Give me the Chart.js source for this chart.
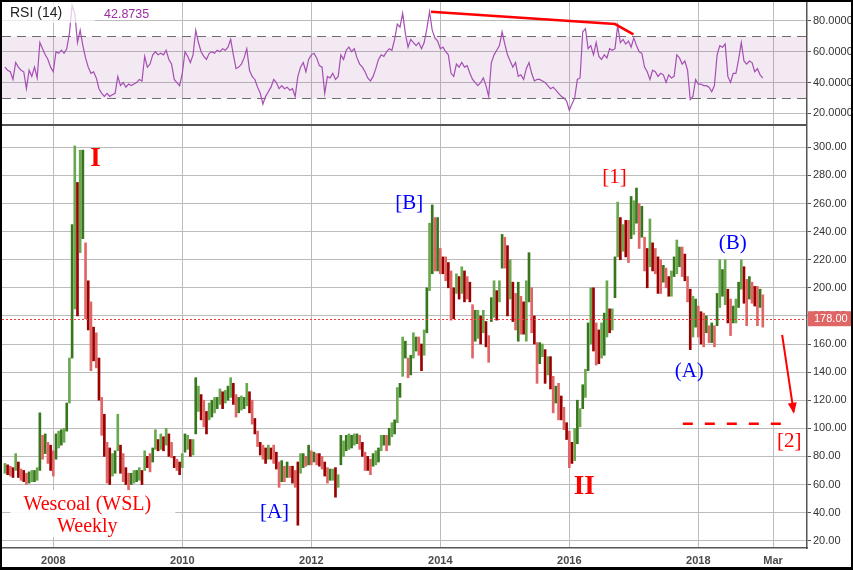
<!DOCTYPE html>
<html>
<head>
<meta charset="utf-8">
<title>Wescoal (WSL) Weekly</title>
<script src="https://cdn.jsdelivr.net/npm/chart.js@4.4.1/dist/chart.umd.min.js"></script>
<style>
  html, body { margin: 0; padding: 0; background: #fff; }
  #frame {
    position: relative;
    width: 853px;
    height: 570px;
    box-sizing: border-box;
    border: 2px solid #000;
    border-bottom-width: 3px;
    background: #fff;
    overflow: hidden;
  }
  #rsi { position: absolute; left: 0; top: 0; }
  #price { position: absolute; left: 0; top: 122px; }
</style>
</head>
<body>
<div id="frame">
  <canvas id="rsi" width="849" height="122"></canvas>
  <canvas id="price" width="849" height="443"></canvas>
</div>
<script>
// bars sampled every half month, first one in April 2007
const START = 2007.25;
const STEP = 1 / 24;

const lows = [
  68, 67, 66, 65, 70, 65, 63, 62, 60, 61, 62, 62,
  63, 70, 78, 82, 75, 70, 66, 78, 86, 88, 90, 98,
  118, 150, 185, 180, 225, 235, 178, 170, 141, 148, 143, 120,
  95, 80, 61, 60, 66, 68, 84, 68, 62, 60, 56, 60,
  61, 62, 63, 60, 70, 72, 69, 76, 85, 84, 85, 84,
  88, 80, 79, 72, 70, 67, 72, 83, 85, 80, 81, 96,
  112, 106, 101, 96, 106, 108, 111, 114, 117, 114, 118, 120,
  122, 117, 108, 111, 113, 114, 116, 111, 103, 96, 87, 81,
  78, 75, 78, 78, 75, 71, 58, 62, 62, 65, 65, 61,
  58, 31, 68, 72, 73, 74, 74, 76, 74, 73, 71, 66,
  61, 63, 63, 51, 58, 74, 80, 84, 85, 86, 88, 89,
  85, 80, 70, 70, 67, 73, 74, 76, 84, 88, 84, 88,
  94, 96, 104, 122, 137, 150, 136, 138, 150, 155, 152, 141,
  152, 168, 198, 210, 212, 212, 210, 210, 205, 200, 177, 178,
  196, 192, 196, 190, 192, 190, 150, 162, 164, 160, 168, 158,
  147, 176, 179, 177, 190, 214, 214, 180, 192, 176, 170, 162,
  167, 167, 162, 190, 168, 160, 132, 146, 151, 132, 138, 128,
  111, 118, 106, 106, 99, 92, 72, 75, 77, 89, 101, 114,
  122, 141, 160, 155, 145, 146, 150, 152, 165, 168, 170, 193,
  222, 220, 226, 222, 218, 235, 238, 246, 228, 236, 212, 200,
  215, 212, 210, 196, 196, 204, 200, 194, 194, 208, 210, 215,
  208, 205, 190, 156, 165, 172, 165, 160, 158, 168, 161, 161,
  158, 173, 186, 194, 188, 175, 166, 175, 175, 186, 199, 189,
  173, 192, 189, 187, 173, 186, 172
];

const highs = [
  75, 74, 73, 72, 82, 76, 71, 70, 68, 69, 70, 70,
  72, 111, 95, 96, 90, 88, 84, 96, 98, 99, 100, 118,
  150, 245, 301, 275, 298, 298, 232, 205, 190, 172, 168, 150,
  122, 110, 90, 86, 82, 84, 110, 88, 82, 72, 68, 68,
  70, 70, 72, 70, 84, 80, 82, 86, 99, 92, 96, 94,
  100, 96, 90, 80, 78, 76, 82, 96, 95, 92, 92, 136,
  130, 124, 120, 112, 118, 120, 122, 122, 128, 126, 127, 130,
  136, 132, 124, 122, 123, 122, 132, 126, 120, 107, 98, 90,
  88, 86, 88, 86, 88, 83, 76, 77, 73, 76, 73, 73,
  70, 76, 82, 82, 80, 88, 84, 83, 82, 82, 80, 76,
  72, 71, 71, 72, 67, 95, 91, 95, 96, 95, 96, 96,
  95, 90, 83, 80, 78, 82, 84, 86, 95, 95, 95, 100,
  104, 106, 129, 132, 165, 162, 150, 152, 168, 165, 165, 160,
  170, 200, 246, 259, 250, 250, 228, 222, 222, 218, 212, 200,
  210, 208, 215, 212, 208, 204, 188, 184, 184, 180, 184, 176,
  166, 193, 205, 198, 205, 238, 236, 230, 220, 204, 196, 204,
  194, 190, 205, 225, 200, 180, 161, 161, 160, 156, 151, 151,
  137, 130, 132, 123, 115, 104, 98, 90, 100, 120, 114, 131,
  142, 175, 200, 200, 175, 170, 175, 182, 205, 185, 185, 222,
  261, 250, 245, 248, 248, 265, 262, 271, 260, 258, 236, 228,
  249, 232, 228, 222, 220, 216, 214, 208, 212, 222, 234, 229,
  229, 224, 208, 199, 194, 192, 187, 183, 182, 180, 173, 175,
  173, 196, 220, 213, 220, 199, 192, 187, 192, 204, 220, 215,
  206, 208, 204, 201, 201, 199, 195
];

const rsiValues = [
  50, 48, 47, 42, 53, 50, 48, 47, 36, 48, 44, 50,
  43, 66, 62, 58, 55, 50, 47, 60, 59, 61, 59, 62,
  72, 90, 85, 66, 74, 64, 56, 50, 46, 47, 43, 36,
  33, 31, 33, 31, 32, 33, 44, 38, 40, 37, 39, 38,
  39, 40, 42, 41, 57, 50, 52, 58, 60, 58, 59, 58,
  61, 55, 52, 42, 40, 38, 46, 60, 57, 53, 58, 74,
  66, 60, 57, 55, 59, 60, 59, 61, 60, 62, 61, 63,
  68, 58, 49, 50, 52, 56, 62, 48, 44, 42, 37, 33,
  26, 31, 34, 37, 42, 40, 36, 38, 36, 37, 35, 36,
  31, 44, 50, 53, 47, 55, 58, 59, 56, 51, 50, 33,
  44, 43, 46, 42, 44, 58, 55, 61, 63, 60, 62, 56,
  52, 50, 47, 43, 41, 44, 49, 55, 58, 57, 60, 62,
  61, 68, 78, 76, 85, 72, 63, 68, 66, 64, 66, 62,
  66, 75, 86, 74, 69, 67, 62, 63, 60, 58, 46, 44,
  52, 50, 53, 50, 51, 46, 42, 40, 38, 40, 43, 38,
  31, 53, 58, 61, 64, 73, 65, 58, 54, 50, 53, 44,
  45, 42, 49, 53, 46, 41, 42, 42, 41, 40, 38, 36,
  37, 35, 33, 31, 30, 28, 22, 26, 30, 42, 43, 73,
  75, 62, 64, 58, 66, 57, 55, 58, 56, 62, 61, 62,
  77, 66, 68, 65, 67, 63, 69, 64, 60, 59, 50, 47,
  42, 48, 47, 44, 46, 45, 40, 45, 43, 44, 58, 56,
  52, 54, 48, 29, 31, 42, 39, 39, 38, 38, 37, 34,
  38, 58, 64, 63, 65, 44, 40, 46, 46, 55, 66, 54,
  52, 54, 53, 47, 49, 45, 42.87
];

const lastClose = 178;
const lastRsi = '42.8735';

const priceTicks = [20, 40, 60, 80, 100, 120, 140, 160, 180, 200, 220, 240, 260, 280, 300];
const rsiTicks = [20, 40, 60, 80];
const dateTicks = [2008, 2010, 2012, 2014, 2016, 2018, 2019.16];
const dateLabels = ['2008', '2010', '2012', '2014', '2016', '2018', 'Mar'];

// wave counts: text, date, price, colour, bold
const waveLabels = [
  ['I', 2008.656, 291.4, '#ff0000', true],
  ['II', 2016.23, 58.2, '#ff0000', true],
  ['[B]', 2013.52, 259.7, '#0000ff', false],
  ['[1]', 2016.70, 278.6, '#ff0000', false],
  ['(B)', 2018.535, 231.2, '#0000ff', false],
  ['(A)', 2017.86, 140.1, '#0000ff', false],
  ['[A]', 2011.43, 40.1, '#0000ff', false],
  ['[2]', 2019.41, 90.3, '#ff0000', false]
];

// drawn lines: RSI divergence, price target, arrow
const rsiTrend = [[2013.856, 86.0], [2016.709, 78.0], [2016.994, 71.3]];
const targetLine = [[2017.76, 103.3], [2019.29, 103.3]];
const arrowLine = [[2019.30, 166.5], [2019.478, 111.8]];

const X_MIN = 2007.2047;
const X_MAX = 2019.6853;
const GRID = '#bcbcbc';
const AXIS = '#555';
const SANS = '"Liberation Sans", Arial, sans-serif';
const SERIF = '"Liberation Serif", "Times New Roman", serif';

const dates = lows.map((_, i) => START + i * STEP);

function barColour(i) {
  const mid = (lows[i] + highs[i]) / 2;
  const prev = i > 0 ? (lows[i - 1] + highs[i - 1]) / 2 : mid;
  if (mid >= prev) return i % 2 ? '#38761d' : '#6aa84f';
  return i % 2 ? '#990000' : '#e06666';
}

function setTicks(list) {
  return scale => { scale.ticks = list.map(v => ({ value: v })); };
}

function polyline(ctx, chart, pts) {
  const { x, y } = chart.scales;
  ctx.beginPath();
  pts.forEach((p, i) => {
    const px = x.getPixelForValue(p[0]);
    const py = y.getPixelForValue(p[1]);
    if (i === 0) ctx.moveTo(px, py); else ctx.lineTo(px, py);
  });
  ctx.stroke();
}

const rsiPlugin = {
  id: 'rsiMarks',
  beforeDatasetsDraw(chart) {
    const { ctx, chartArea: a, scales: { y } } = chart;
    const y70 = Math.round(y.getPixelForValue(70)) + 0.5;
    const y30 = Math.round(y.getPixelForValue(30)) + 0.5;
    ctx.save();
    ctx.fillStyle = 'rgba(150, 70, 160, 0.12)';
    ctx.fillRect(a.left, y70, a.right - a.left, y30 - y70);
    ctx.strokeStyle = '#6e6e6e';
    ctx.lineWidth = 1;
    ctx.setLineDash([9, 6]);
    [y70, y30].forEach(p => {
      ctx.beginPath();
      ctx.moveTo(a.left, p);
      ctx.lineTo(a.right, p);
      ctx.stroke();
    });
    ctx.restore();
  },
  afterDatasetsDraw(chart) {
    const { ctx } = chart;
    ctx.save();
    ctx.strokeStyle = '#ff0000';
    ctx.lineWidth = 2.5;
    polyline(ctx, chart, rsiTrend);

    ctx.fillStyle = 'rgba(255, 255, 255, 0.7)';
    ctx.fillRect(0, 0, 93, 21);
    ctx.textBaseline = 'middle';
    ctx.textAlign = 'left';
    ctx.fillStyle = '#222';
    ctx.font = '14px ' + SANS;
    ctx.fillText('RSI (14)', 8, 11);
    ctx.fillStyle = '#9c2aa0';
    ctx.font = '12.5px ' + SANS;
    ctx.fillText(lastRsi, 102, 13);
    ctx.restore();
  }
};

const pricePlugin = {
  id: 'priceMarks',
  afterDatasetsDraw(chart) {
    const { ctx, chartArea: a, scales: { x, y } } = chart;
    ctx.save();

    // last close
    const yc = Math.round(y.getPixelForValue(lastClose)) + 0.5;
    ctx.strokeStyle = '#ef3b3b';
    ctx.lineWidth = 1;
    ctx.setLineDash([2, 2]);
    ctx.beginPath();
    ctx.moveTo(a.left, yc);
    ctx.lineTo(a.right, yc);
    ctx.stroke();
    ctx.setLineDash([]);

    // panel separator
    ctx.strokeStyle = AXIS;
    ctx.lineWidth = 2;
    ctx.beginPath();
    ctx.moveTo(0, a.top + 1);
    ctx.lineTo(a.right, a.top + 1);
    ctx.stroke();

    // target level and arrow
    ctx.strokeStyle = '#ff0000';
    ctx.lineWidth = 2.5;
    ctx.setLineDash([10, 12]);
    polyline(ctx, chart, targetLine);
    ctx.setLineDash([]);
    ctx.lineWidth = 2;
    polyline(ctx, chart, arrowLine);
    const x1 = x.getPixelForValue(arrowLine[0][0]), y1 = y.getPixelForValue(arrowLine[0][1]);
    const x2 = x.getPixelForValue(arrowLine[1][0]), y2 = y.getPixelForValue(arrowLine[1][1]);
    const ang = Math.atan2(y2 - y1, x2 - x1);
    ctx.fillStyle = '#ff0000';
    ctx.beginPath();
    ctx.moveTo(x2 + 2 * Math.cos(ang), y2 + 2 * Math.sin(ang));
    ctx.lineTo(x2 - 9 * Math.cos(ang) + 4.5 * Math.sin(ang), y2 - 9 * Math.sin(ang) - 4.5 * Math.cos(ang));
    ctx.lineTo(x2 - 9 * Math.cos(ang) - 4.5 * Math.sin(ang), y2 - 9 * Math.sin(ang) + 4.5 * Math.cos(ang));
    ctx.closePath();
    ctx.fill();

    // wave labels
    ctx.textAlign = 'center';
    ctx.textBaseline = 'middle';
    waveLabels.forEach(([text, t, v, colour, bold]) => {
      ctx.fillStyle = colour;
      ctx.font = (bold ? 'bold 27px ' : '21px ') + SERIF;
      ctx.fillText(text, x.getPixelForValue(t), y.getPixelForValue(v));
    });

    // title box
    const cx = x.getPixelForValue(2008.527);
    const t1 = y.getPixelForValue(45.4);
    const t2 = y.getPixelForValue(29.7);
    ctx.fillStyle = 'rgba(255, 255, 255, 0.9)';
    ctx.fillRect(cx - 77, t1 - 15, 165, t2 - t1 + 25);
    ctx.fillStyle = '#ff0000';
    ctx.font = '20px ' + SERIF;
    ctx.fillText('Wescoal (WSL)', cx, t1);
    ctx.fillText('Weekly', cx, t2);
    ctx.restore();
  },
  afterDraw(chart) {
    const { ctx, chartArea: a, scales: { y } } = chart;
    const yc = y.getPixelForValue(lastClose);
    ctx.save();
    ctx.fillStyle = '#e06666';
    ctx.fillRect(a.right + 1, yc - 7.5, chart.width - a.right - 1, 15);
    ctx.fillStyle = '#fff';
    ctx.font = '11px ' + SANS;
    ctx.textAlign = 'left';
    ctx.textBaseline = 'middle';
    ctx.fillText(lastClose.toFixed(2), a.right + 7, yc + 0.5);
    ctx.restore();
  }
};

const baseOptions = {
  responsive: false,
  animation: false,
  events: [],
  layout: { padding: 0 },
  plugins: { legend: { display: false }, tooltip: { enabled: false } }
};

new Chart(document.getElementById('rsi'), {
  type: 'line',
  data: {
    datasets: [{
      data: dates.map((t, i) => ({ x: t, y: rsiValues[i] })),
      borderColor: '#a64fb3',
      borderWidth: 1.2,
      pointRadius: 0,
      tension: 0,
      fill: false
    }]
  },
  options: {
    ...baseOptions,
    scales: {
      x: {
        type: 'linear',
        min: X_MIN,
        max: X_MAX,
        afterBuildTicks: setTicks(dateTicks),
        afterFit: s => { s.height = 0; s.paddingLeft = 0; s.paddingRight = 0; },
        ticks: { display: false },
        grid: { color: GRID, drawTicks: false },
        border: { display: false }
      },
      y: {
        position: 'right',
        min: 13.04,
        max: 92.35,
        afterBuildTicks: setTicks(rsiTicks),
        afterFit: s => { s.width = 44; s.paddingTop = 0; s.paddingBottom = 0; },
        ticks: {
          callback: v => v.toFixed(4),
          color: '#333',
          font: { family: SANS, size: 11 },
          padding: 2
        },
        grid: { color: GRID, tickLength: 4, tickColor: AXIS },
        border: { color: AXIS, width: 1.5 }
      }
    }
  },
  plugins: [rsiPlugin]
});

new Chart(document.getElementById('price'), {
  type: 'bar',
  data: {
    datasets: [{
      data: dates.map((t, i) => ({ x: t, y: [lows[i], highs[i]] })),
      backgroundColor: ctx => barColour(ctx.dataIndex),
      barThickness: 2,
      borderWidth: 0,
      grouped: false
    }]
  },
  options: {
    ...baseOptions,
    scales: {
      x: {
        type: 'linear',
        offset: false,
        min: X_MIN,
        max: X_MAX,
        afterBuildTicks: setTicks(dateTicks),
        afterFit: s => { s.height = 19; s.paddingLeft = 0; s.paddingRight = 0; },
        ticks: {
          autoSkip: false,
          maxRotation: 0,
          callback: (v, i) => dateLabels[i],
          color: '#4a4a4a',
          font: { family: SANS, size: 11, weight: 'bold' },
          padding: 6
        },
        grid: { color: GRID, offset: false, drawTicks: false },
        border: { color: AXIS, width: 1.5 }
      },
      y: {
        position: 'right',
        min: 14.8,
        max: 316.6,
        afterBuildTicks: setTicks(priceTicks),
        afterFit: s => { s.width = 44; s.paddingTop = 0; s.paddingBottom = 0; },
        ticks: {
          callback: v => v.toFixed(2),
          color: '#333',
          font: { family: SANS, size: 11 },
          padding: 2
        },
        grid: { color: GRID, tickLength: 4, tickColor: AXIS },
        border: { color: AXIS, width: 1.5 }
      }
    }
  },
  plugins: [pricePlugin]
});
</script>
</body>
</html>
